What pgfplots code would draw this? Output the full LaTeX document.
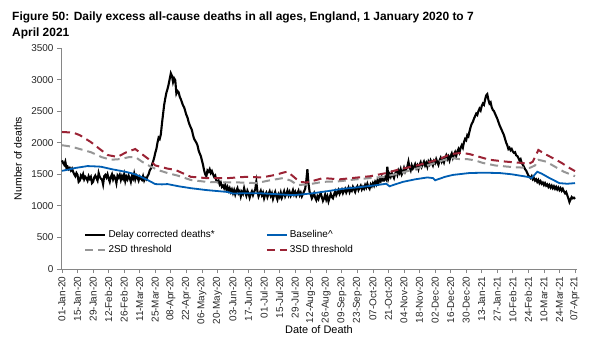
\documentclass[border=0pt]{standalone}
\usepackage{pgfplots}
\pgfplotsset{compat=1.18}
\usepackage{fontspec}
\setmainfont{Liberation Sans}
\definecolor{baseblue}{RGB}{0,94,179}
\definecolor{sdred}{RGB}{155,35,53}
\definecolor{sdgray}{RGB}{150,150,150}
\definecolor{axgray}{RGB}{134,134,134}
\begin{document}
\begin{tikzpicture}
\path[use as bounding box] (0,0) rectangle (602bp,356bp);
\node[anchor=base west, inner sep=0pt, font=\bfseries\fontsize{12}{14}\selectfont] at (12bp,335bp) {Figure 50: Daily excess all-cause deaths in all ages, England, 1 January 2020 to 7};
\node[anchor=base west, inner sep=0pt, font=\bfseries\fontsize{12}{14}\selectfont] at (12bp,319bp) {April 2021};
\begin{axis}[
  at={(61bp,87bp)}, anchor=south west,
  width=516bp, height=221bp, scale only axis,
  xmin=-0.9, xmax=463.8, ymin=0, ymax=3500,
  axis lines=left, axis line style={-, draw=axgray, line width=0.8bp},
  tick align=outside, major tick length=4bp,
  tick style={draw=axgray, line width=0.8bp},
  xtick={0,14,...,462},
  xticklabels={01-Jan-20,15-Jan-20,29-Jan-20,12-Feb-20,26-Feb-20,11-Mar-20,25-Mar-20,08-Apr-20,22-Apr-20,06-May-20,20-May-20,03-Jun-20,17-Jun-20,01-Jul-20,15-Jul-20,29-Jul-20,12-Aug-20,26-Aug-20,09-Sep-20,23-Sep-20,07-Oct-20,21-Oct-20,04-Nov-20,18-Nov-20,02-Dec-20,16-Dec-20,30-Dec-20,13-Jan-21,27-Jan-21,10-Feb-21,24-Feb-21,10-Mar-21,24-Mar-21,07-Apr-21},
  xticklabel style={rotate=90, anchor=east, font=\fontsize{10}{12}\selectfont, text=black!85},
  ytick={0,500,...,3500},
  yticklabel style={font=\fontsize{10}{12}\selectfont, text=black!85},
  /pgf/number format/assume math mode=true,
  /pgf/number format/set thousands separator={},
  xlabel={Date of Death},
  xlabel style={at={(axis description cs:0.5,-0.275)}, anchor=center, font=\fontsize{11}{12}\selectfont},
  ylabel={Number of deaths},
  ylabel style={at={(axis description cs:-0.0835,0.5)}, anchor=center, font=\fontsize{10.5}{12}\selectfont},
  legend columns=2,
  legend cell align=left,
  legend style={at={(axis description cs:0.045,0.183)}, anchor=north west, draw=none, fill=none, inner sep=0pt, font=\fontsize{10}{12}\selectfont, row sep=2bp, /tikz/every even column/.append style={column sep=49bp}},
  legend image code/.code={\draw[#1] (0bp,0bp) -- (20bp,0bp);},
]
\addplot[black, line width=2.1bp] coordinates {
(0,1720)(1,1680)(2,1650)(3,1700)(4,1600)(5,1620)(6,1580)(7,1600)(8,1560)(9,1590)(10,1540)(11,1500)(12,1470)(13,1520)(14,1490)(15,1380)(16,1400)(17,1480)(18,1450)(19,1500)(20,1420)(21,1460)(22,1440)(23,1400)(24,1470)(25,1430)(26,1460)(27,1360)(28,1380)(29,1450)(30,1480)(31,1440)(32,1400)(33,1520)(34,1460)(35,1430)(36,1420)(37,1340)(38,1470)(39,1490)(40,1450)(41,1500)(42,1430)(43,1380)(44,1460)(45,1500)(46,1420)(47,1470)(48,1440)(49,1360)(50,1480)(51,1450)(52,1490)(53,1410)(54,1470)(55,1430)(56,1500)(57,1390)(58,1460)(59,1420)(60,1480)(61,1440)(62,1380)(63,1470)(64,1430)(65,1510)(66,1420)(67,1480)(68,1450)(69,1400)(70,1460)(71,1430)(72,1410)(73,1470)(74,1400)(75,1440)(76,1420)(77,1470)(78,1500)(79,1560)(80,1590)(81,1650)(82,1700)(83,1760)(84,1840)(85,1900)(86,2000)(87,2080)(88,2060)(89,2130)(90,2300)(91,2450)(92,2600)(93,2700)(94,2790)(95,2850)(96,2920)(97,3010)(98,3100)(99,3060)(100,2960)(101,3020)(102,2990)(103,2780)(104,2820)(105,2800)(106,2730)(107,2690)(108,2640)(109,2590)(110,2560)(111,2500)(112,2440)(113,2400)(114,2330)(115,2280)(116,2240)(117,2200)(118,2120)(119,2060)(120,2030)(121,2000)(122,1960)(123,1880)(124,1830)(125,1790)(126,1720)(127,1650)(128,1560)(129,1500)(130,1470)
(131,1560)(132,1540)(133,1580)(134,1520)(135,1550)(136,1500)(137,1460)(138,1480)(139,1400)(140,1380)(141,1400)(142,1340)(143,1370)(144,1300)(145,1320)(146,1280)(147,1330)(148,1260)(149,1300)(150,1240)(151,1280)(152,1220)(153,1260)(154,1200)(155,1250)(156,1180)(157,1240)(158,1280)(159,1200)(160,1230)(161,1150)(162,1220)(163,1190)(164,1280)(165,1210)(166,1160)(167,1240)(168,1200)(169,1130)(170,1190)(171,1230)(172,1170)(173,1220)(174,1260)(175,1380)(176,1230)(177,1150)(178,1200)(179,1240)(180,1170)(181,1210)(182,1120)(183,1180)(184,1210)(185,1140)(186,1190)(187,1230)(188,1160)(189,1200)(190,1110)(191,1170)(192,1220)(193,1150)(194,1100)(195,1180)(196,1140)(197,1210)(198,1130)(199,1180)(200,1230)(201,1150)(202,1190)(203,1240)(204,1170)(205,1220)(206,1160)(207,1200)(208,1250)(209,1180)(210,1220)(211,1160)(212,1200)(213,1240)(214,1170)(215,1210)(216,1150)(217,1190)(218,1230)(219,1270)(220,1400)(221,1580)(222,1350)(223,1220)
(224,1180)(225,1120)(226,1160)(227,1200)(228,1130)(229,1090)(230,1150)(231,1110)(232,1170)(233,1200)(234,1140)(235,1080)(236,1120)(237,1180)(238,1100)(239,1150)(240,1070)(241,1130)(242,1190)(243,1140)(244,1120)(245,1180)(246,1230)(247,1170)(248,1210)(249,1250)(250,1190)(251,1230)(252,1260)(253,1200)(254,1240)(255,1270)(256,1210)(257,1250)(258,1290)(259,1220)(260,1270)(261,1240)(262,1300)(263,1260)(264,1220)(265,1280)(266,1310)(267,1250)(268,1290)(269,1320)(270,1260)(271,1300)(272,1270)(273,1330)(274,1290)(275,1350)(276,1300)(277,1270)(278,1340)(279,1310)(280,1360)(281,1320)(282,1380)(283,1340)(284,1400)(285,1360)(286,1420)(287,1390)(288,1450)(289,1400)(290,1400)(291,1450)(292,1420)(293,1620)(294,1440)(295,1500)(296,1460)(297,1520)(298,1480)(299,1440)(300,1510)(301,1540)(302,1490)(303,1560)(304,1520)(305,1580)(306,1500)(307,1540)(308,1600)(309,1540)(310,1580)(311,1620)(312,1700)(313,1600)(314,1560)(315,1640)(316,1590)(317,1620)(318,1660)(319,1600)(320,1640)(321,1580)(322,1650)(323,1690)(324,1620)(325,1660)(326,1700)(327,1640)(328,1680)(329,1620)(330,1700)(331,1660)(332,1720)(333,1680)(334,1640)(335,1710)(336,1680)(337,1740)(338,1690)(339,1650)(340,1720)(341,1760)(342,1700)(343,1740)(344,1690)(345,1760)(346,1800)(347,1740)(348,1780)(349,1720)(350,1790)(351,1830)(352,1760)(353,1810)(354,1850)(355,1790)(356,1860)(357,1900)(358,1850)(359,1920)(360,1960)(361,1920)(362,2010)(363,2060)(364,2040)(365,2120)(366,2100)(367,2180)(368,2250)(369,2300)(370,2330)(371,2380)(372,2420)(373,2460)(374,2440)(375,2500)(376,2540)(377,2510)(378,2580)(379,2620)(380,2600)(381,2680)(382,2750)(383,2770)(384,2680)(385,2620)(386,2640)(387,2560)(388,2520)(389,2500)(390,2460)(391,2420)(392,2380)(393,2330)(394,2280)(395,2240)(396,2200)(397,2160)(398,2120)(399,2060)(400,2000)(401,1960)(402,1900)(403,1920)(404,1880)(405,1900)(406,1860)(407,1840)(408,1850)(409,1800)(410,1790)(411,1760)(412,1720)(413,1740)(414,1680)(415,1650)(416,1620)(417,1580)(418,1560)(419,1520)(420,1480)(421,1460)(422,1440)(423,1470)(424,1420)(425,1440)(426,1400)(427,1420)(428,1380)(429,1410)(430,1360)(431,1390)(432,1350)(433,1370)(434,1330)(435,1360)(436,1320)(437,1340)(438,1300)(439,1330)(440,1290)(441,1320)(442,1280)(443,1310)(444,1270)(445,1300)(446,1260)(447,1290)(448,1250)(449,1280)(450,1240)(451,1270)(452,1230)(453,1200)(454,1220)(455,1170)(456,1120)(457,1060)(458,1100)(459,1140)(460,1120)(461,1130)(462,1110)
};
\addlegendentry{Delay corrected deaths*}
\addplot[baseblue, line width=1.8bp] coordinates {
(0,1555)(6,1575)(12,1600)(23,1630)(30,1625)(35,1620)(45,1580)(57,1540)(64,1510)(70,1470)(77,1410)(84,1345)(90,1340)(95,1345)(105,1310)(116,1280)(130,1250)(149,1220)(154,1195)(165,1200)(178,1200)(193,1185)(208,1170)(218,1185)(226,1200)(240,1235)(253,1270)(270,1300)(284,1330)(292,1350)(295,1310)(300,1340)(307,1380)(318,1420)(329,1450)(334,1440)(336,1405)(345,1460)(352,1490)(367,1520)(380,1525)(394,1520)(405,1500)(419,1460)(423,1440)(426,1500)(428,1540)(432,1510)(439,1440)(448,1360)(455,1350)(462,1360)
};
\addlegendentry{Baseline\^{}}
\addplot[sdgray, line width=2bp, dash pattern=on 8bp off 5bp] coordinates {
(0,1960)(8,1940)(16,1900)(26,1850)(36,1770)(44,1730)(52,1740)(60,1770)(66,1775)(72,1700)(78,1640)(86,1570)(95,1520)(104,1480)(116,1410)(130,1380)(145,1370)(160,1370)(175,1360)(186,1400)(199,1440)(206,1400)(212,1330)(222,1340)(235,1380)(250,1390)(265,1420)(290,1460)(305,1520)(321,1600)(336,1680)(350,1760)(358,1740)(365,1740)(372,1720)(379,1680)(390,1640)(405,1615)(421,1600)(426,1640)(429,1730)(436,1700)(445,1610)(452,1540)(462,1470)
};
\addlegendentry{2SD threshold}
\addplot[sdred, line width=2bp, dash pattern=on 8bp off 5bp] coordinates {
(0,2170)(10,2160)(16,2120)(26,2010)(34,1900)(41,1805)(50,1775)(58,1850)(66,1900)(72,1820)(78,1740)(84,1640)(95,1590)(102,1570)(116,1460)(130,1440)(150,1440)(166,1460)(180,1450)(192,1490)(200,1530)(203,1540)(208,1470)(214,1380)(220,1370)(229,1410)(235,1440)(250,1420)(278,1470)(292,1520)(302,1570)(322,1650)(340,1740)(350,1820)(360,1840)(367,1820)(375,1780)(385,1730)(400,1700)(414,1680)(420,1660)(424,1700)(429,1885)(435,1820)(440,1775)(450,1680)(456,1610)(462,1550)
};
\addlegendentry{3SD threshold}
\end{axis}
\end{tikzpicture}
\end{document}
